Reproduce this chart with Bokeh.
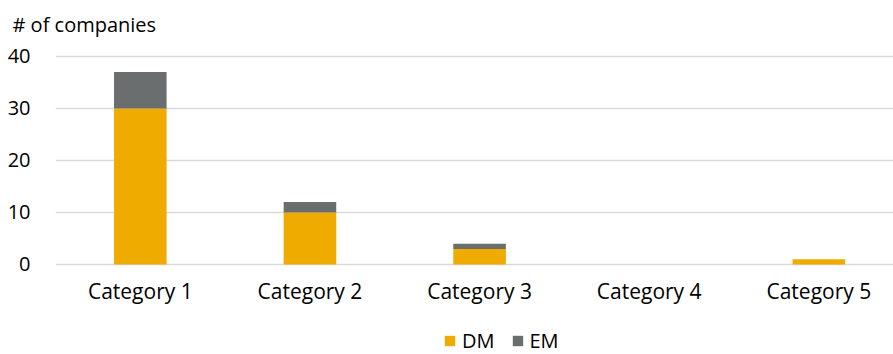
from bokeh.plotting import figure
from bokeh.models import ColumnDataSource, Range1d, FixedTicker, Legend, LegendItem
from bokeh.embed import file_html
from bokeh.resources import INLINE

# Number of companies per category, split by market type
categories = ["Category 1", "Category 2", "Category 3", "Category 4", "Category 5"]
dm = [30, 10, 3, 0, 1]
em = [7, 2, 1, 0, 0]
y_ticks = [0, 10, 20, 30, 40]

DM_COLOR = "#F0AB00"
EM_COLOR = "#6B6E6F"
FONT = "Open Sans"

xs = list(range(1, len(categories) + 1))
source = ColumnDataSource(data=dict(x=xs, DM=dm, EM=em))

# The frame runs to the bottom edge; the category axis is pinned at y=0 and
# the legend sits in the free strip underneath it.
p = figure(width=893, height=354, output_backend="svg", toolbar_location=None,
           x_range=Range1d(0.5, 5.44), y_range=Range1d(-17.31, 42.115),
           min_border_left=55, min_border_right=0, min_border_top=45,
           min_border_bottom=0)

renderers = p.vbar_stack(["DM", "EM"], x="x", width=0.31, source=source,
                         color=[DM_COLOR, EM_COLOR], line_color=None)

p.outline_line_color = None
p.background_fill_color = "white"
p.border_fill_color = "white"

# Title in the top-left corner
p.title.text = "# of companies"
p.title.align = "left"
p.title.offset = -43
p.title.text_font = FONT
p.title.text_font_size = "20px"
p.title.text_font_style = "normal"
p.title.text_color = "#000000"
p.title.standoff = 16

# Y axis: labels only
p.yaxis.ticker = FixedTicker(ticks=y_ticks)
p.yaxis.axis_line_color = None
p.yaxis.major_tick_line_color = None
p.yaxis.minor_tick_line_color = None
p.yaxis.major_label_text_font = FONT
p.yaxis.major_label_text_font_size = "20px"
p.yaxis.major_label_text_color = "#000000"
p.yaxis.major_label_standoff = 19

# X axis: category names under the zero line
p.xaxis.fixed_location = 0
p.xaxis.ticker = FixedTicker(ticks=xs)
p.xaxis.major_label_overrides = {x: c for x, c in zip(xs, categories)}
p.xaxis.axis_line_color = None
p.xaxis.major_tick_line_color = None
p.xaxis.minor_tick_line_color = None
p.xaxis.major_label_text_font = FONT
p.xaxis.major_label_text_font_size = "21px"
p.xaxis.major_label_text_color = "#000000"
p.xaxis.major_label_standoff = 7

p.xgrid.grid_line_color = None
p.ygrid.grid_line_color = "#D9D9D9"
p.ygrid.grid_line_width = 1.3

legend = Legend(items=[LegendItem(label="DM", renderers=[renderers[0]]),
                       LegendItem(label="EM", renderers=[renderers[1]])],
                orientation="horizontal", location=(388, 0),
                glyph_width=13, glyph_height=13,
                label_text_font=FONT, label_text_font_size="20px",
                label_text_color="#000000", label_standoff=6, spacing=16,
                border_line_color=None, background_fill_alpha=0,
                padding=0, margin=0)
p.add_layout(legend, "center")

open("out.html", "w").write(file_html(p, INLINE))
